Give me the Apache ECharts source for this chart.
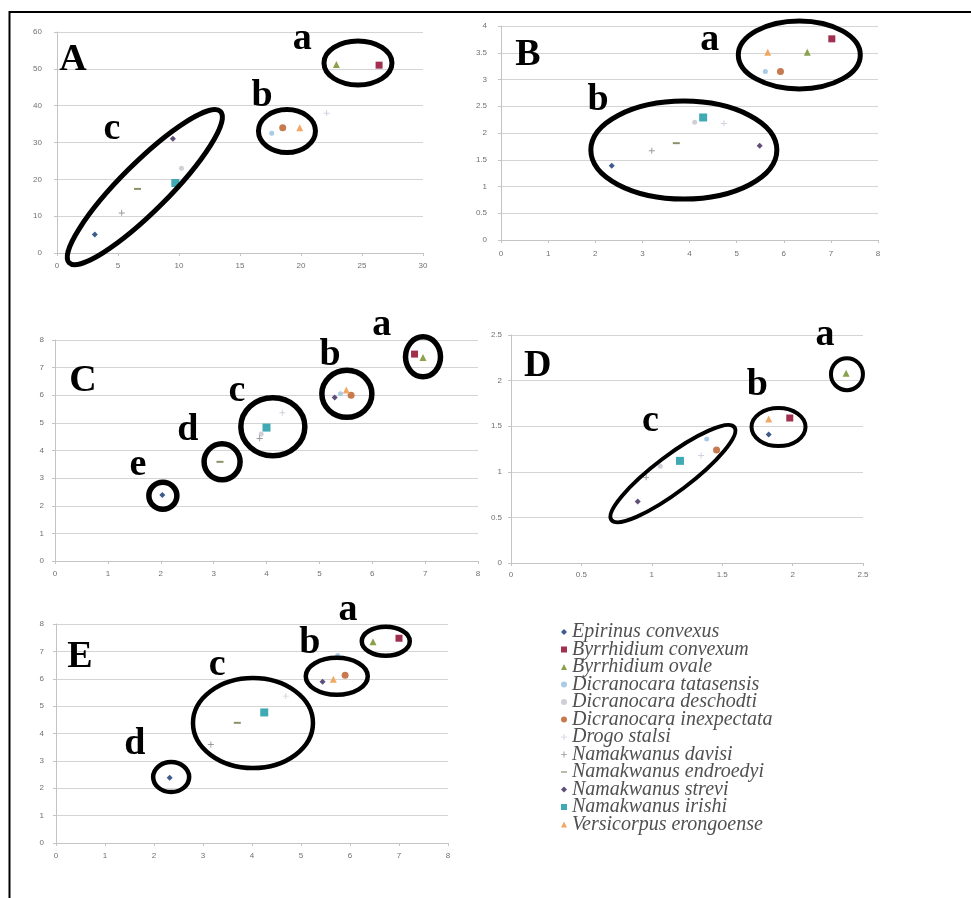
<!DOCTYPE html>
<html>
<head>
<meta charset="utf-8">
<script src="https://cdn.jsdelivr.net/npm/echarts@6/dist/echarts.min.js"></script>
<style>
html,body{margin:0;padding:0;background:#fff}
#main{width:971px;height:898px}
</style>
</head>
<body>
<div id="main"></div>
<script>
// species, in legend order
var species = ['Epirinus convexus', 'Byrrhidium convexum', 'Byrrhidium ovale',
    'Dicranocara tatasensis', 'Dicranocara deschodti', 'Dicranocara inexpectata',
    'Drogo stalsi', 'Namakwanus davisi', 'Namakwanus endroedyi', 'Namakwanus strevi',
    'Namakwanus irishi', 'Versicorpus erongoense'];

// [x, y] per species for each panel (null = not plotted)
var panelA = [[3.1, 5], [26.4, 51], [22.9, 51.2], [17.6, 32.5], [10.2, 23], [18.5, 34],
    [22.1, 38], [5.3, 10.9], [6.6, 17.4], [9.5, 31], [9.7, 19], [19.9, 34]];
var panelB = [[2.35, 1.39], [7.02, 3.76], [6.5, 3.51], [5.61, 3.15], [4.11, 2.2], [5.93, 3.15],
    [4.73, 2.18], [3.2, 1.67], [3.72, 1.81], [5.49, 1.76], [4.29, 2.29], [5.66, 3.51]];
var panelC = [[2.03, 2.39], [6.8, 7.49], [6.96, 7.37], [5.4, 6.05], [3.9, 4.6], [5.6, 6.0],
    [4.3, 5.37], [3.87, 4.44], [3.12, 3.59], [5.29, 5.92], [4.0, 4.83], [5.51, 6.19]];
var panelD = [[1.83, 1.41], [1.98, 1.59], [2.38, 2.08], [1.39, 1.36], [1.06, 1.06], [1.46, 1.24],
    [1.35, 1.18], [0.96, 0.94], null, [0.9, 0.675], [1.2, 1.12], [1.83, 1.58]];
var panelE = [[2.32, 2.38], [7.0, 7.48], [6.47, 7.35], [5.75, 6.85], null, [5.9, 6.13],
    [4.69, 5.37], [3.16, 3.6], [3.7, 4.39], [5.44, 5.89], [4.25, 4.77], [5.66, 5.98]];

// axis ranges: [xMax, xStep, yMax, yStep]
var rangeA = [30, 5, 60, 10];
var rangeB = [8, 1, 4, 0.5];
var rangeC = [8, 1, 8, 1];
var rangeD = [2.5, 0.5, 2.5, 0.5];
var rangeE = [8, 1, 8, 1];

// group rings: [cx, cy] in data units
var ringsA = [[24.67, 51.6], [18.85, 33.1], [7.2, 17.9]];
var ringsB = [[6.33, 3.46], [3.88, 1.68]];
var ringsC = [[6.96, 7.39], [5.52, 6.05], [4.12, 4.86], [3.16, 3.59], [2.04, 2.36]];
var ringsD = [[2.386, 2.07], [1.9, 1.49], [1.15, 0.98]];
var ringsE = [[6.73, 7.37], [5.73, 6.09], [4.02, 4.38], [2.35, 2.41]];

// group letters: [x, y] in data units
var labelsA = [[1.3, 52.4], [20.1, 58.0], [16.8, 42.6], [4.5, 33.6]];
var labelsB = [[0.57, 3.45], [4.43, 3.74], [2.06, 2.61]];
var labelsC = [[0.53, 6.52], [6.18, 8.53], [5.2, 7.46], [3.44, 6.13], [2.51, 4.75], [1.57, 3.48]];
var labelsD = [[0.19, 2.16], [2.23, 2.50], [1.75, 1.95], [0.99, 1.55]];
var labelsE = [[0.49, 6.79], [5.96, 8.5], [5.18, 7.3], [3.29, 6.5], [1.61, 3.61]];

var colors = ['#3f5a8c', '#a0304e', '#8aa24e', '#a9cbe6', '#cfcfd8', '#c67a4e',
    '#d6cfe0', '#9a9a9a', '#8f8f6a', '#5e4e7a', '#3faab3', '#f2a865'];
var plus = 'path://M0,2.2h5v0.8H0z M2.1,0h0.8v5H2.1z';
var dash = 'path://M0,0h6v1.2H0z';
var symbols = ['diamond', 'rect', 'triangle', 'circle', 'circle', 'circle',
    plus, plus, dash, 'diamond', 'rect', 'triangle'];
var sizes = [6, 7, 7, 5, 5, 7, 6, 6, [7, 2], 6, 8, 7];

var panels = [
    {pts: panelA, range: rangeA, rings: ringsA, labels: labelsA,
        grid: {left: 57, top: 32, width: 366, height: 221}, ym: 15, xm: 9,
        ringSize: [[34, 22, 0], [28.5, 21.5, 0], [107, 24, 45]], ringW: 5,
        text: ['A', 'a', 'b', 'c']},
    {pts: panelB, range: rangeB, rings: ringsB, labels: labelsB,
        grid: {left: 501, top: 26, width: 377, height: 214}, ym: 14, xm: 10,
        ringSize: [[61, 34, 0], [93, 49, 0]], ringW: 5,
        text: ['B', 'a', 'b']},
    {pts: panelC, range: rangeC, rings: ringsC, labels: labelsC,
        grid: {left: 55, top: 340, width: 423, height: 221}, ym: 11, xm: 9,
        ringSize: [[17.5, 20, 0], [25, 23.5, 0], [32, 29, 0], [18, 18, 0], [14, 13.5, 0]], ringW: 5.5,
        text: ['C', 'a', 'b', 'c', 'd', 'e']},
    {pts: panelD, range: rangeD, rings: ringsD, labels: labelsD,
        grid: {left: 511, top: 335, width: 352, height: 228}, ym: 9, xm: 8,
        ringSize: [[16, 16, 0], [27, 19, 0], [77, 18, 37]], ringW: 4,
        text: ['D', 'a', 'b', 'c']},
    {pts: panelE, range: rangeE, rings: ringsE, labels: labelsE,
        grid: {left: 56, top: 624, width: 392, height: 219}, ym: 12, xm: 9,
        ringSize: [[24, 14.5, 0], [31, 18.5, 0], [60, 45, 0], [18, 15, 0]], ringW: 4.5,
        text: ['E', 'a', 'b', 'c', 'd']}
];

var chart = echarts.init(document.getElementById('main'));

var grids = [], xAxes = [], yAxes = [], series = [];
var lblStyle = {fontSize: 8, color: '#707070', fontFamily: 'Liberation Sans'};
var lineStyle = {color: '#c4c4c4', width: 1};

panels.forEach(function (p, i) {
    grids.push(p.grid);
    xAxes.push({
        type: 'value', gridIndex: i, min: 0, max: p.range[0], interval: p.range[1],
        axisLine: {show: true, lineStyle: lineStyle},
        axisTick: {show: true, length: 3, lineStyle: lineStyle},
        axisLabel: Object.assign({margin: p.xm}, lblStyle),
        splitLine: {show: false}
    });
    yAxes.push({
        type: 'value', gridIndex: i, min: 0, max: p.range[2], interval: p.range[3],
        axisLine: {show: true, lineStyle: lineStyle},
        axisTick: {show: true, length: 3, lineStyle: lineStyle},
        axisLabel: Object.assign({margin: p.ym}, lblStyle),
        splitLine: {show: true, lineStyle: {color: '#d4d4d4', width: 1}}
    });

    species.forEach(function (name, k) {
        var pt = p.pts[k];
        series.push({
            type: 'scatter', name: name, xAxisIndex: i, yAxisIndex: i,
            symbol: symbols[k], symbolSize: sizes[k],
            itemStyle: {color: colors[k], opacity: 1},
            data: pt ? [pt] : [],
            silent: true, z: 3
        });
    });

    // rings round each group
    series.push({
        type: 'custom', xAxisIndex: i, yAxisIndex: i, silent: true, z: 5, clip: false,
        data: p.rings,
        renderItem: function (params, api) {
            var c = api.coord([api.value(0), api.value(1)]);
            var s = p.ringSize[params.dataIndex];
            return {
                type: 'ellipse', x: c[0], y: c[1], rotation: s[2] * Math.PI / 180,
                shape: {cx: 0, cy: 0, rx: s[0], ry: s[1]},
                style: {fill: 'none', stroke: '#000', lineWidth: p.ringW}
            };
        }
    });

    // panel and group letters
    series.push({
        type: 'custom', xAxisIndex: i, yAxisIndex: i, silent: true, z: 6, clip: false,
        data: p.labels,
        renderItem: function (params, api) {
            var c = api.coord([api.value(0), api.value(1)]);
            return {
                type: 'text', x: c[0], y: c[1],
                style: {
                    text: p.text[params.dataIndex], fill: '#000',
                    fontFamily: 'Liberation Serif', fontWeight: 'bold', fontSize: 38,
                    align: 'center', verticalAlign: 'middle'
                }
            };
        }
    });
});

chart.setOption({
    animation: false,
    backgroundColor: '#fff',
    grid: grids,
    xAxis: xAxes,
    yAxis: yAxes,
    legend: {
        data: species, orient: 'vertical', left: 556, top: 617,
        itemWidth: 6, itemHeight: 6, itemGap: -2.5, selectedMode: false,
        textStyle: {fontFamily: 'Liberation Serif', fontStyle: 'italic', fontSize: 20,
            color: '#505050'}
    },
    graphic: [
        {type: 'line', shape: {x1: 9, y1: 12, x2: 971, y2: 12}, style: {stroke: '#000', lineWidth: 2}},
        {type: 'line', shape: {x1: 9.5, y1: 11, x2: 9.5, y2: 898}, style: {stroke: '#000', lineWidth: 2}}
    ],
    series: series
});
</script>
</body>
</html>
